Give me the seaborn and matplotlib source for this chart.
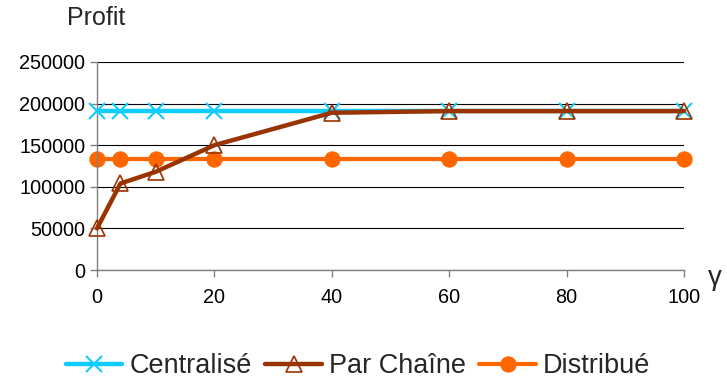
import matplotlib
matplotlib.use("Agg")
import matplotlib.pyplot as plt
import pandas as pd
import seaborn as sns

# valeurs
gamma = [0, 4, 10, 20, 40, 60, 80, 100]
centralise = [191500, 191500, 191500, 191500, 191500, 191500, 191500, 191500]
par_chaine = [50000, 104000, 118000, 150000, 189000, 191000, 191000, 191000]
distribue = [134000, 134000, 134000, 134000, 134000, 134000, 134000, 134000]

series = ["Centralisé", "Par Chaîne", "Distribué"]
couleurs = ["#10CCFF", "#993300", "#FF6600"]

df = pd.DataFrame({"gamma": gamma, "Centralisé": centralise,
                   "Par Chaîne": par_chaine, "Distribué": distribue})

sns.set_theme(style="white")
plt.rcParams["font.family"] = ["Liberation Sans", "DejaVu Sans"]

fig = plt.figure(figsize=(7.27, 3.85), dpi=100)
ax = fig.add_axes([0.1334, 0.2987, 0.8076, 0.5403])

sns.lineplot(data=df, x="gamma", y="Centralisé", ax=ax, color=couleurs[0],
             lw=3.2, marker="x", markersize=12, markeredgewidth=1.5,
             markeredgecolor=couleurs[0], label=series[0], zorder=3)
sns.lineplot(data=df, x="gamma", y="Par Chaîne", ax=ax, color=couleurs[1],
             lw=3.2, marker="^", markersize=12, markerfacecolor="none",
             markeredgewidth=1.2, markeredgecolor=couleurs[1],
             label=series[1], zorder=4)
sns.lineplot(data=df, x="gamma", y="Distribué", ax=ax, color=couleurs[2],
             lw=3, marker="o", markersize=11, markeredgecolor=couleurs[2],
             label=series[2], zorder=2)

ax.set_xlim(0, 100)
ax.set_ylim(0, 250000)
ax.set_xticks([0, 20, 40, 60, 80, 100])
ax.set_yticks([0, 50000, 100000, 150000, 200000, 250000])
ax.grid(axis="y", color="black", lw=0.8)
ax.set_axisbelow(True)
for s in ["top", "right"]:
    ax.spines[s].set_visible(False)
for s in ["left", "bottom"]:
    ax.spines[s].set_color("#808080")
    ax.spines[s].set_linewidth(1)
ax.tick_params(axis="both", direction="out", length=5, width=1,
               color="#808080", labelsize=14.3, labelcolor="black",
               bottom=True, left=True)
ax.set_xlabel("")
ax.set_ylabel("")
for t in ax.get_xticklabels():
    t.set_y(-0.03)

for l in ax.lines:
    l.set_clip_on(False)

fig.text(0.132, 0.952, "Profit", fontsize=18, ha="center", va="center")
fig.text(0.983, 0.278, "γ", fontsize=20, ha="center", va="center")

handles, labels = ax.get_legend_handles_labels()
ax.legend_.remove()
fig.legend(handles, labels, loc="center", bbox_to_anchor=(358 / 727, 1 - 366 / 385),
           ncol=3, frameon=False, fontsize=19.5, handlelength=2.1,
           columnspacing=0.5, handletextpad=0.25, borderpad=0, borderaxespad=0)

fig.savefig("out.png", dpi=100)
